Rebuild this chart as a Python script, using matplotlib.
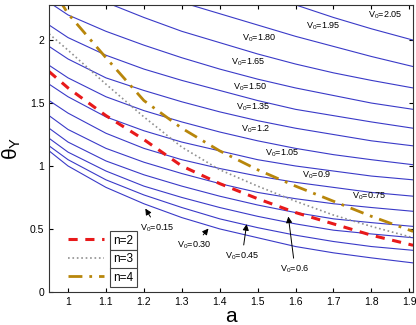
import numpy as np
import matplotlib.pyplot as plt

plt.rcParams['font.family'] = ['Liberation Sans', 'DejaVu Sans']
plt.rcParams['mathtext.fontset'] = 'custom'
plt.rcParams['mathtext.rm'] = 'Liberation Sans'
plt.rcParams['mathtext.it'] = 'Liberation Sans:italic'

a = [0.95, 1.0, 1.1, 1.2, 1.3, 1.4, 1.5, 1.6, 1.7, 1.8, 1.91]

# theta_Y curves for each V0
theta_v0 = {
    '2.05': [3.05, 2.95, 2.80, 2.67, 2.56, 2.46, 2.37, 2.28, 2.18, 2.09, 2.00],
    '1.95': [2.80, 2.70, 2.52, 2.40, 2.30, 2.21, 2.12, 2.03, 1.95, 1.87, 1.79],
    '1.80': [2.55, 2.45, 2.30, 2.18, 2.07, 1.98, 1.89, 1.81, 1.74, 1.68, 1.62],
    '1.65': [2.30, 2.20, 2.07, 1.96, 1.86, 1.77, 1.69, 1.62, 1.56, 1.50, 1.45],
    '1.50': [2.12, 2.02, 1.88, 1.77, 1.68, 1.60, 1.52, 1.45, 1.40, 1.35, 1.30],
    '1.35': [1.95, 1.85, 1.70, 1.60, 1.51, 1.43, 1.36, 1.30, 1.25, 1.20, 1.16],
    '1.2':  [1.80, 1.70, 1.55, 1.44, 1.35, 1.27, 1.20, 1.14, 1.09, 1.05, 1.01],
    '1.05': [1.65, 1.55, 1.39, 1.28, 1.19, 1.12, 1.05, 1.00, 0.96, 0.92, 0.89],
    '0.9':  [1.52, 1.42, 1.26, 1.14, 1.05, 0.98, 0.92, 0.87, 0.83, 0.79, 0.76],
    '0.75': [1.40, 1.29, 1.14, 1.03, 0.94, 0.86, 0.79, 0.74, 0.70, 0.67, 0.64],
    '0.6':  [1.30, 1.19, 1.04, 0.93, 0.84, 0.76, 0.69, 0.63, 0.58, 0.55, 0.52],
    '0.45': [1.22, 1.11, 0.96, 0.84, 0.75, 0.67, 0.60, 0.54, 0.49, 0.46, 0.43],
    '0.30': [1.16, 1.05, 0.89, 0.77, 0.67, 0.58, 0.51, 0.45, 0.40, 0.36, 0.33],
    '0.15': [1.12, 1.00, 0.83, 0.70, 0.59, 0.50, 0.43, 0.36, 0.31, 0.27, 0.23],
}

theta_n2 = [1.75, 1.62, 1.40, 1.21, 1.00, 0.86, 0.74, 0.63, 0.54, 0.45, 0.37]
theta_n3 = [2.05, 1.92, 1.65, 1.39, 1.15, 0.97, 0.84, 0.72, 0.61, 0.52, 0.43]
theta_n4 = [2.45, 2.21, 1.86, 1.52, 1.30, 1.12, 0.97, 0.84, 0.72, 0.60, 0.48]

fig = plt.figure(figsize=(4.16, 3.25), dpi=100)
ax = fig.add_axes([0.118, 0.102, 0.875, 0.883])

for k in theta_v0:
    ax.plot(a, theta_v0[k], '-', color='#3a3ac8', lw=0.8)

ax.plot(a, theta_n2, '--', color='#e8191a', lw=2.2, dashes=(3, 2.5), label='n=2')
ax.plot(a, theta_n3, ':', color='#909090', lw=1.2, label='n=3')
ax.plot(a, theta_n4, '-.', color='#b8860b', lw=2.0, dashes=(5, 2.5, 1, 2.5), label='n=4')

# plain labels
fs = 6.5
ax.text(1.79, 2.18, r'V$_0$=2.05', fontsize=fs)
ax.text(1.627, 2.09, r'V$_0$=1.95', fontsize=fs)
ax.text(1.46, 2.0, r'V$_0$=1.80', fontsize=fs)
ax.text(1.43, 1.81, r'V$_0$=1.65', fontsize=fs)
ax.text(1.435, 1.605, r'V$_0$=1.50', fontsize=fs)
ax.text(1.443, 1.445, r'V$_0$=1.35', fontsize=fs)
ax.text(1.456, 1.27, r'V$_0$=1.2', fontsize=fs)
ax.text(1.52, 1.08, r'V$_0$=1.05', fontsize=fs)
ax.text(1.618, 0.91, r'V$_0$=0.9', fontsize=fs)
ax.text(1.75, 0.74, r'V$_0$=0.75', fontsize=fs)

arr = dict(arrowstyle='-|>', color='k', lw=0.7, mutation_scale=9)
ax.annotate(r'V$_0$=0.15', xy=(1.2, 0.68), xytext=(1.19, 0.49), fontsize=fs, arrowprops=arr)
ax.annotate(r'V$_0$=0.30', xy=(1.375, 0.52), xytext=(1.288, 0.35), fontsize=fs, arrowprops=arr)
ax.annotate(r'V$_0$=0.45', xy=(1.472, 0.56), xytext=(1.414, 0.265), fontsize=fs, arrowprops=arr)
ax.annotate(r'V$_0$=0.6', xy=(1.58, 0.62), xytext=(1.56, 0.16), fontsize=fs, arrowprops=arr)

ax.set_xlim(0.95, 1.91)
ax.set_ylim(0, 2.28)
ax.set_xticks([1, 1.1, 1.2, 1.3, 1.4, 1.5, 1.6, 1.7, 1.8, 1.9])
ax.set_xticklabels(['1', '1.1', '1.2', '1.3', '1.4', '1.5', '1.6', '1.7', '1.8', '1.9'])
ax.set_yticks([0, 0.5, 1, 1.5, 2])
ax.set_yticklabels(['0', '0.5', '1', '1.5', '2'])
ax.tick_params(direction='in', top=True, right=True, labelsize=7.5, length=3)
for s in ax.spines.values():
    s.set_color('#333333')

ax.set_xlabel('a', fontsize=15, labelpad=0)
ax.set_ylabel(r'θ$_\mathrm{Y}$', fontsize=15, labelpad=5)

leg = ax.legend(loc='lower left', bbox_to_anchor=(0.03, 0.0), frameon=False,
                fontsize=8.5, handlelength=3.0, labelspacing=0.55, borderaxespad=0.3)
for t in leg.get_texts():
    t.set_bbox(dict(facecolor='white', edgecolor='#444444', lw=0.8, pad=2.5))

plt.savefig('out.png', dpi=100)
